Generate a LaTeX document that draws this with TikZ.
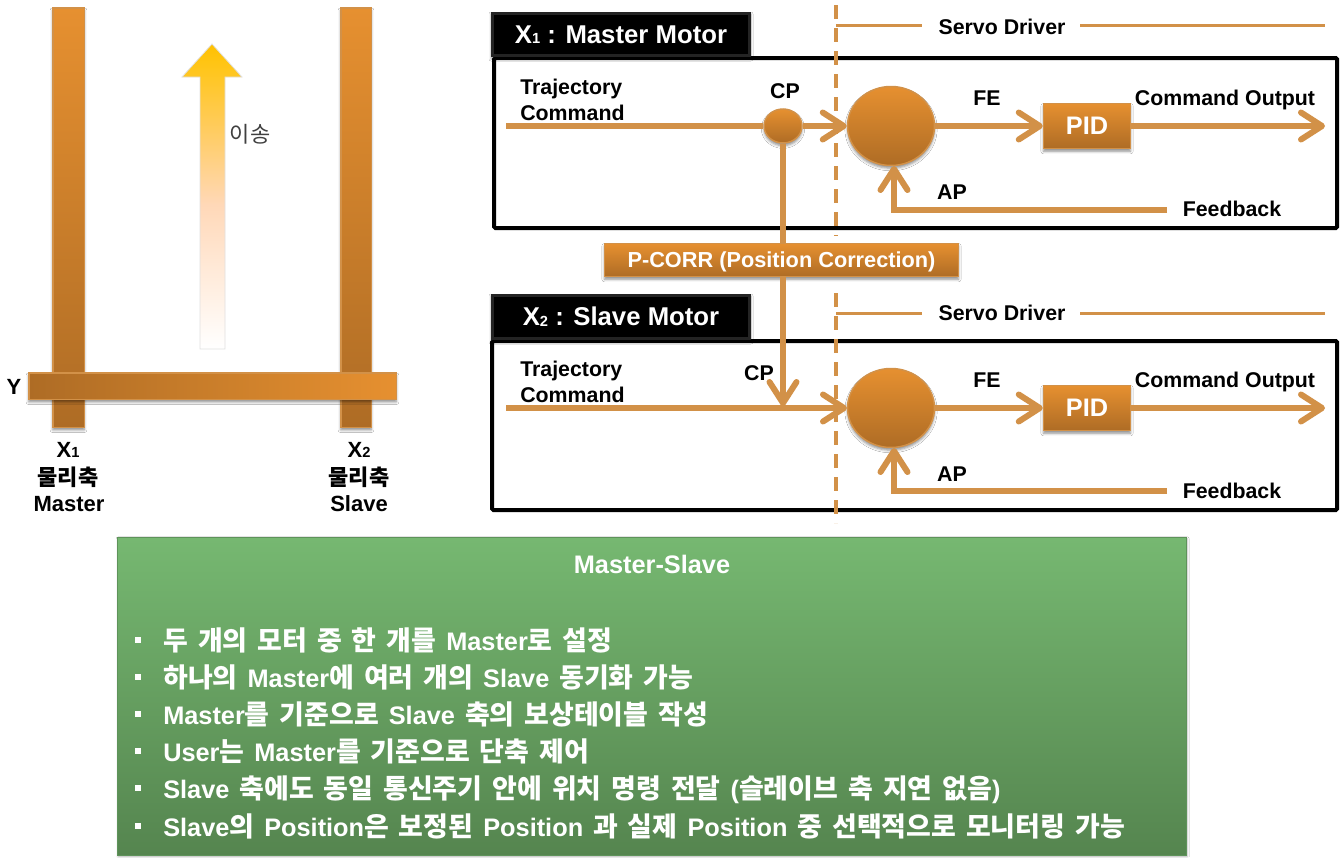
\documentclass[tikz,border=0pt]{standalone}
\usepackage{fontspec}
\setmainfont{Liberation Sans}
\newfontfamily\krfont{Noto Sans CJK KR}
\newcommand{\K}[1]{{\krfont #1}}
\newcommand{\KB}[1]{{\fontsize{20.2}{22}\selectfont\krfont #1}}
\newcommand{\Sb}[1]{\raisebox{-0.5pt}{\fontsize{11}{11}\selectfont #1}}
\newcommand{\W}[1]{{\setlength{\spaceskip}{7.5pt}#1}}
\usetikzlibrary{shapes.geometric,arrows.meta,shadows,shadows.blur}
\def\px{0.75pt}
\definecolor{orT}{HTML}{E69030}
\definecolor{orB}{HTML}{AE6C25}
\definecolor{orL}{HTML}{D29148}
\definecolor{grT}{HTML}{76B871}
\definecolor{grM}{HTML}{6CA868}
\definecolor{grB}{HTML}{55854F}
\definecolor{arrA}{HTML}{FFD8B8}
\definecolor{arrB}{HTML}{FFCC60}
\definecolor{arrC}{HTML}{FFC514}
\definecolor{arrD}{HTML}{FFC000}
\pgfdeclareverticalshading{uparrow}{100bp}{
  color(0bp)=(white);color(25bp)=(white);
  color(48.6bp)=(arrA);color(60.9bp)=(arrB);color(72bp)=(arrC);color(75bp)=(arrD);color(100bp)=(arrD)}
\tikzset{
  softshadow/.style={blur shadow={shadow xshift=0pt,shadow yshift=-2pt,shadow blur radius=2pt,shadow opacity=45}},
  orangebox/.style={rectangle,draw=orL,line width=1.5*\px,top color=orT,bottom color=orB,inner sep=0pt,softshadow},
  sumnode/.style={ellipse,draw=orL,line width=1.5*\px,top color=orT,bottom color=orB,inner sep=0pt,softshadow,minimum width=87*\px,minimum height=79*\px},
  tapnode/.style={ellipse,draw=orL,line width=1.5*\px,top color=orT,bottom color=orB,inner sep=0pt,softshadow,minimum width=38*\px,minimum height=34*\px},
  frameline/.style={draw=black,line width=4*\px,rounded corners=1pt},
  blackhead/.style={rectangle,fill=black!86,inner sep=0pt,text=white,font=\fontsize{19.3}{22}\selectfont\bfseries,
    blur shadow={shadow xshift=0pt,shadow yshift=-1.5pt,shadow blur radius=1.5pt,shadow opacity=35},
    path picture={\fill[black] ([xshift=2.5pt,yshift=2.5pt]path picture bounding box.south west) rectangle ([xshift=-2.5pt,yshift=-2.5pt]path picture bounding box.north east);}},
  lab/.style={inner sep=0pt,text=black,font=\fontsize{16}{18}\selectfont\bfseries},
  leftlab/.style={inner sep=0pt,text=black,font=\fontsize{16.5}{18}\selectfont\bfseries},
  pidtext/.style={text=white,font=\fontsize{19}{22}\selectfont\bfseries,text height=12.5pt,text depth=0pt},
  conn/.style={draw=orL,line width=6*\px},
  thinline/.style={draw=orL,line width=3*\px},
  flow/.style={conn,-{Straight Barb[length=21*\px,width=27*\px,round]}},
  dashline/.style={draw=orL,line width=3.5*\px,dash pattern=on 14*\px off 9*\px},
  bullettext/.style={anchor=west,inner sep=0pt,text=white,font=\fontsize{19}{22}\selectfont\bfseries,text height=18pt,text depth=2.8pt},
  squarebullet/.style={rectangle,fill=white,inner sep=0pt,minimum size=6.5*\px},
}
\begin{document}
\begin{tikzpicture}[x=0.75pt,y=-0.75pt]
\useasboundingbox (0,0) rectangle (1341,857);
\fill[white] (0,0) rectangle (1341,857);

% frames
\draw[frameline] (494,58) rectangle (1337,228);
\draw[frameline] (492,341) rectangle (1337,510);

% dashed boundary and servo driver brackets
\coordinate (dash1a) at (836,5);
\coordinate (dash1b) at (836,236);
\coordinate (dash2a) at (836,293);
\coordinate (dash2b) at (836,523);
\coordinate (sdL1) at (836,25);
\coordinate (sdA1) at (922,25);
\coordinate (sdB1) at (1080,25);
\coordinate (sdC1) at (1325,25);
\coordinate (sdL2) at (836,313);
\coordinate (sdA2) at (922,313);
\coordinate (sdB2) at (1080,313);
\coordinate (sdC2) at (1325,313);
\draw[dashline] (dash1a) -- (dash1b);
\draw[dashline] (dash2a) -- (dash2b);
\draw[thinline] (sdL1) -- (sdA1);
\draw[thinline] (sdB1) -- (sdC1);
\draw[thinline] (sdL2) -- (sdA2);
\draw[thinline] (sdB2) -- (sdC2);

% left: gantry
\node[orangebox,minimum width=31.5*\px,minimum height=419.5*\px] (barX1) at (68.5,217.5) {};
\node[orangebox,minimum width=30.5*\px,minimum height=419.5*\px] (barX2) at (356,217.5) {};
\node[rectangle,draw=orL,line width=1.5*\px,left color=orB,right color=orT,inner sep=0pt,softshadow,minimum width=367.5*\px,minimum height=26.5*\px] (barY) at (212.5,386) {};
\path[draw=black!12,line width=.75*\px,shade,shading=uparrow] (212,44) -- (242,77) -- (225,77) -- (225,349) -- (200,349) -- (200,77) -- (182,77) -- cycle;
\node[inner sep=0pt,text=black!75,font=\fontsize{16.5}{18}\selectfont] (moveLab) at (250,134) {\K{이송}};
\node[leftlab] (yLab) at (14,387) {Y};
\node[leftlab] (x1a) at (68,450) {X\Sb{1}};
\node[leftlab] (x1b) at (68,477) {\K{물리축}};
\node[leftlab] (x1c) at (69,504) {Master};
\node[leftlab] (x2a) at (359,450) {X\Sb{2}};
\node[leftlab] (x2b) at (359,477) {\K{물리축}};
\node[leftlab] (x2c) at (359,504) {Slave};

% nodes row 1
\coordinate (start1) at (506,126);
\coordinate (out1) at (1325,126);
\coordinate (fb1) at (1167,210);
\coordinate (fbin1) at (894,166);
\node[tapnode] (cp1) at (783,126) {};
\node[sumnode] (sum1) at (891,126) {};
\node[orangebox,minimum width=87*\px,minimum height=45*\px,pidtext] (pid1) at (1087,126) {PID};
\node[blackhead,minimum width=260*\px,minimum height=45*\px] (head1) at (621,34.5) {X\Sb{1} : Master Motor};

% nodes row 2
\coordinate (start2) at (506,408);
\coordinate (out2) at (1325,408);
\coordinate (fb2) at (1167,491);
\coordinate (fbin2) at (894,448);
\coordinate (join2) at (783,406);
\coordinate (before2) at (847,408);
\node[sumnode] (sum2) at (891,408) {};
\node[orangebox,minimum width=87*\px,minimum height=45*\px,pidtext] (pid2) at (1087,408) {PID};
\node[blackhead,minimum width=260*\px,minimum height=46*\px] (head2) at (621,317) {\raisebox{1pt}{X\Sb{2} : Slave Motor}};

\node[orangebox,minimum width=354*\px,minimum height=33*\px,text=white,font=\fontsize{16.3}{18}\selectfont\bfseries,text height=11.7pt,text depth=0pt] (pcorr) at (781.5,260) {P-CORR (Position Correction)};

% labels
\node[lab,anchor=west] (traj1) at (520,89) {Trajectory};
\node[lab,anchor=west] (cmd1) at (520,113) {Command};
\node[lab] (cpL1) at (785,91) {CP};
\node[lab] (feL1) at (987,98) {FE};
\node[lab] (coL1) at (1225,100) {Command Output};
\node[lab] (apL1) at (952,192) {AP};
\node[lab] (fbL1) at (1232,209) {Feedback};
\node[lab,anchor=west] (traj2) at (520,371) {Trajectory};
\node[lab,anchor=west] (cmd2) at (520,395) {Command};
\node[lab] (cpL2) at (759,373) {CP};
\node[lab] (feL2) at (987,380) {FE};
\node[lab] (coL2) at (1225,382) {Command Output};
\node[lab] (apL2) at (952,474) {AP};
\node[lab] (fbL2) at (1232,491) {Feedback};
\node[lab] (sd1) at (1002,27) {Servo Driver};
\node[lab] (sd2) at (1002,313) {Servo Driver};

% connectors
\draw[conn] (start1) -- (cp1.west);
\draw[flow] (cp1.east) -- (sum1.west);
\draw[flow] (sum1.east) -- (pid1.west);
\draw[flow] (pid1.east) -- (out1);
\draw[flow] (fb1) -| (fbin1);
\draw[conn] (cp1.south) -- (pcorr.north -| cp1.south);
\draw[flow] (pcorr.south -| cp1.south) -- (join2);
\draw[flow] (start2) -- (before2);
\draw[flow] (sum2.east) -- (pid2.west);
\draw[flow] (pid2.east) -- (out2);
\draw[flow] (fb2) -| (fbin2);

% green panel
\node[rectangle,draw=grT!80!black,line width=1*\px,top color=grT,middle color=grM,bottom color=grB,inner sep=0pt,minimum width=1069*\px,minimum height=318*\px,blur shadow={shadow xshift=0.5pt,shadow yshift=-1pt,shadow blur radius=1.5pt,shadow opacity=30}] (panel) at (652,696.5) {};
\node[inner sep=0pt,text=white,font=\fontsize{19}{22}\selectfont\bfseries] (panelTitle) at (652,564) {Master-Slave};
\foreach \yy/\nm in {640/a,677/b,714/c,751/d,788/e,826/f}{
  \node[squarebullet] (bul\nm) at (138,\yy) {};
}
\node[bullettext] (ta) at (163,640) {\W{\KB{두 개의 모터 중 한 개를} Master\KB{로 설정}}};
\node[bullettext] (tb) at (163,677) {\W{\KB{하나의} Master\KB{에 여러 개의} Slave \KB{동기화 가능}}};
\node[bullettext] (tc) at (163,714) {\W{Master\KB{를 기준으로} Slave \KB{축의 보상테이블 작성}}};
\node[bullettext] (td) at (163,751) {\W{User\KB{는} Master\KB{를 기준으로 단축 제어}}};
\node[bullettext] (te) at (163,788) {\W{Slave \KB{축에도 동일 통신주기 안에 위치 명령 전달} (\KB{슬레이브 축 지연 없음})}};
\node[bullettext] (tf) at (163,826) {\W{Slave\KB{의} Position\KB{은 보정된} Position \KB{과 실제} Position \KB{중 선택적으로 모니터링 가능}}};
\end{tikzpicture}
\end{document}
